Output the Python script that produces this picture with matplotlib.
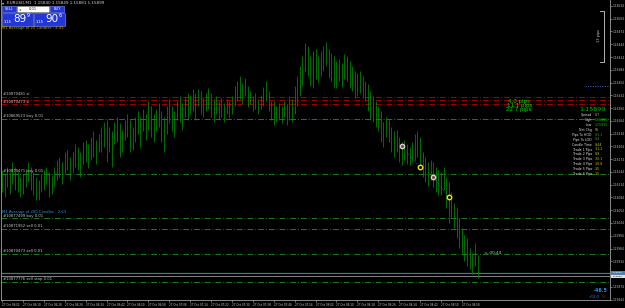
import matplotlib
matplotlib.use("Agg")
import matplotlib.pyplot as plt
from matplotlib.patches import Rectangle

# --- EURUSD M1 bars (high / low) ---
bar_high = [
    1.16148, 1.16139, 1.16155, 1.16143, 1.16167, 1.16155, 1.16143, 1.16131,
    1.16139, 1.16148, 1.16167, 1.16155, 1.16143, 1.16131, 1.16124, 1.16139,
    1.16148, 1.16155, 1.16143, 1.16134, 1.16155, 1.16172, 1.16179, 1.16167,
    1.16191, 1.16196, 1.16179, 1.16191, 1.16210, 1.16203, 1.16191, 1.16215,
    1.16220, 1.16210, 1.16227, 1.16239, 1.16220, 1.16234, 1.16250, 1.16262,
    1.16267, 1.16250, 1.16239, 1.16262, 1.16274, 1.16258, 1.16243, 1.16267,
    1.16281, 1.16267, 1.16250, 1.16274, 1.16286, 1.16274, 1.16291, 1.16281,
    1.16310, 1.16298, 1.16281, 1.16291, 1.16305, 1.16286, 1.16274, 1.16298,
    1.16315, 1.16300, 1.16286, 1.16310, 1.16322, 1.16305, 1.16320, 1.16329,
    1.16324, 1.16339, 1.16329, 1.16339, 1.16334, 1.16320, 1.16329, 1.16341,
    1.16329, 1.16315, 1.16322, 1.16310, 1.16317, 1.16305, 1.16315, 1.16310,
    1.16322, 1.16346, 1.16358, 1.16369, 1.16353, 1.16365, 1.16346, 1.16334,
    1.16322, 1.16329, 1.16315, 1.16324, 1.16343, 1.16358, 1.16334, 1.16310,
    1.16310, 1.16298, 1.16305, 1.16300, 1.16310, 1.16303, 1.16322, 1.16315,
    1.16346, 1.16369, 1.16393, 1.16417, 1.16446, 1.16441, 1.16417, 1.16429,
    1.16434, 1.16417, 1.16429, 1.16441, 1.16450, 1.16434, 1.16424, 1.16417,
    1.16405, 1.16410, 1.16400, 1.16422, 1.16417, 1.16405, 1.16393, 1.16381,
    1.16377, 1.16381, 1.16369, 1.16358, 1.16350, 1.16334, 1.16322, 1.16310,
    1.16298, 1.16286, 1.16262, 1.16274, 1.16267, 1.16250, 1.16239, 1.16243,
    1.16227, 1.16215, 1.16220, 1.16210, 1.16203, 1.16215, 1.16234, 1.16239,
    1.16227, 1.16191, 1.16179, 1.16167, 1.16172, 1.16167, 1.16155, 1.16148,
    1.16143, 1.16155, 1.16131, 1.16120, 1.16096, 1.16072, 1.16060, 1.16036,
    1.16012, 1.15996, 1.15989, 1.15965, 1.15953, 1.15977, 1.15948,
]
bar_low = [
    1.16096, 1.16084, 1.16108, 1.16091, 1.16115, 1.16101, 1.16096, 1.16084,
    1.16091, 1.16108, 1.16120, 1.16101, 1.16089, 1.16079, 1.16077, 1.16096,
    1.16101, 1.16115, 1.16084, 1.16091, 1.16108, 1.16124, 1.16131, 1.16115,
    1.16139, 1.16148, 1.16124, 1.16143, 1.16155, 1.16148, 1.16131, 1.16162,
    1.16167, 1.16153, 1.16172, 1.16179, 1.16162, 1.16191, 1.16191, 1.16203,
    1.16167, 1.16191, 1.16155, 1.16210, 1.16215, 1.16179, 1.16191, 1.16220,
    1.16227, 1.16191, 1.16196, 1.16215, 1.16234, 1.16203, 1.16239, 1.16220,
    1.16243, 1.16227, 1.16215, 1.16239, 1.16250, 1.16215, 1.16191, 1.16234,
    1.16258, 1.16239, 1.16227, 1.16267, 1.16262, 1.16243, 1.16274, 1.16267,
    1.16281, 1.16286, 1.16267, 1.16298, 1.16279, 1.16274, 1.16286, 1.16291,
    1.16274, 1.16262, 1.16281, 1.16267, 1.16274, 1.16262, 1.16279, 1.16270,
    1.16281, 1.16298, 1.16310, 1.16315, 1.16303, 1.16322, 1.16296, 1.16303,
    1.16286, 1.16291, 1.16281, 1.16291, 1.16300, 1.16310, 1.16286, 1.16267,
    1.16255, 1.16262, 1.16267, 1.16258, 1.16274, 1.16255, 1.16267, 1.16262,
    1.16281, 1.16298, 1.16322, 1.16346, 1.16381, 1.16369, 1.16346, 1.16341,
    1.16362, 1.16353, 1.16369, 1.16381, 1.16393, 1.16365, 1.16358, 1.16341,
    1.16341, 1.16358, 1.16343, 1.16362, 1.16358, 1.16341, 1.16334, 1.16317,
    1.16322, 1.16329, 1.16317, 1.16310, 1.16286, 1.16267, 1.16262, 1.16250,
    1.16239, 1.16215, 1.16203, 1.16227, 1.16215, 1.16191, 1.16179, 1.16191,
    1.16167, 1.16160, 1.16172, 1.16162, 1.16160, 1.16167, 1.16172, 1.16179,
    1.16160, 1.16131, 1.16120, 1.16112, 1.16124, 1.16108, 1.16096, 1.16089,
    1.16089, 1.16101, 1.16060, 1.16024, 1.16036, 1.16012, 1.15989, 1.15965,
    1.15953, 1.15934, 1.15924, 1.15917, 1.15905, 1.15924, 1.15895,
]
time_labels = [
    "27 Oct 06:02", "27 Oct 06:10", "27 Oct 06:18", "27 Oct 06:26", "27 Oct 06:34",
    "27 Oct 06:42", "27 Oct 06:50", "27 Oct 06:58", "27 Oct 07:06", "27 Oct 07:14",
    "27 Oct 07:22", "27 Oct 07:30", "27 Oct 07:38", "27 Oct 07:46", "27 Oct 07:54",
    "27 Oct 08:02", "27 Oct 08:10", "27 Oct 08:18", "27 Oct 08:26", "27 Oct 08:34",
    "27 Oct 08:42", "27 Oct 08:50", "27 Oct 08:58",
]
bid = 1.15899
ask = 1.15906
sl_levels = [1.16320, 1.16313, 1.16303]
sl_names = ["#10870481 sl", "", "#10870473 sl"]
order_levels = [1.16269, 1.16139, 1.16035, 1.16010, 1.15951, 1.15885]
order_names = ["#10869523 buy 0.01", "#10870471 buy 0.01", "#10877499 buy 0.01",
               "#10871962 sell 0.01", "#10870473 sell 0.01", "#10877776 sell stop 0.01"]
open_bars = [153, 165]
open_prices = [1.16205, 1.16132]
close_bars = [160, 171]
close_prices = [1.16155, 1.16085]
info_names = ["Spread", "High", "Low", "Net Chg", "Pips To HOD", "Pips To LOD", "Candle Time",
              "Trade 1 Pips", "Trade 2 Pips", "Trade 3 Pips", "Trade 4 Pips", "Trade 5 Pips",
              "Trade 6 Pips"]
info_values = ["0.7", "1.16450", "1.15895", "56", "-55.1", "0.4", "0:44",
               "-31.1", "8.9", "-30.1", "-10.8", "3.5", "-15"]
info_colors = ["#c8c800", "#00c000", "#00c000", "#c8c800", "#00c000", "#00c000", "#c8c800",
               "#c8c800", "#c8c800", "#c8c800", "#c8c800", "#c8c800", "#c8c800"]

W, H = 625, 308
fig = plt.figure(figsize=(W / 100, H / 100), dpi=100, facecolor="black")
ax = fig.add_axes([1 / W, 8 / H, 609 / W, 300 / H], facecolor="black")

x = list(range(len(bar_high)))
ax.vlines(x, bar_low, bar_high, color="#008c00", lw=0.55, zorder=3)

# stop-loss / order lines
dashdot = (0, (6, 2, 1, 2))
for lvl, name in zip(sl_levels, sl_names):
    ax.axhline(lvl, color="#a00000", lw=0.7, ls=dashdot, zorder=2)
    if name:
        ax.annotate(name, (0.004, lvl), xycoords=("axes fraction", "data"), xytext=(0, 0.5),
                    textcoords="offset points", fontsize=2.7, color="#c8c8c8", va="bottom")
for lvl, name in zip(order_levels, order_names):
    ax.axhline(lvl, color="#1f7a1f", lw=0.7, ls=dashdot, zorder=2)
    ax.annotate(name, (0.004, lvl), xycoords=("axes fraction", "data"), xytext=(0, 0.5),
                textcoords="offset points", fontsize=2.7, color="#c8c8c8", va="bottom")

ax.axhline(ask, color="#4a7099", lw=0.9, zorder=2)
ax.axhline(bid, color="#9a9a9a", lw=0.6, zorder=2)
ax.hlines(1.16347, 223, 232.7, color="#3a6fd0", lw=0.7, ls=(0, (1, 1.5)))

# closed trades
for ob, op, cb, cp in zip(open_bars, open_prices, close_bars, close_prices):
    ax.plot([ob, cb], [op, cp], color="#2a62d8", lw=0.6, ls=(0, (1, 1.5)), zorder=4)
ax.plot(open_bars, open_prices, "o", ms=3.2, mfc="#904848", mec="#d8d8d8", mew=0.9, zorder=5)
ax.plot(close_bars, close_prices, "o", ms=3.2, mfc="black", mec="#e8e800", mew=1.0, zorder=5)

ax.set_xlim(-0.383, 232.7)
ax.set_ylim(1.15843, 1.16548)
ax.set_xticks(range(0, 8 * len(time_labels), 8))
ax.set_xticklabels(time_labels, ha="left")
# the terminal hides the scale label that sits under the bid/ask tags
price_ticks = [1.16534 - 0.0003 * k for k in range(24)]
price_ticks = [p for p in price_ticks if abs(p - bid) > 0.00012]
ax.set_yticks(price_ticks)
ax.set_yticklabels([f"{p:.5f}" for p in price_ticks])
ax.yaxis.tick_right()
ax.tick_params(axis="x", colors="#a0a0a0", labelcolor="#c8c8c8", labelsize=2.0, length=1.5,
               width=0.5, pad=0.6)
ax.tick_params(axis="y", colors="#a0a0a0", labelcolor="#c8c8c8", labelsize=2.1, length=1.5,
               width=0.5, pad=0.6)
for side in ["left", "bottom", "right"]:
    ax.spines[side].set_color("#a0a0a0")
    ax.spines[side].set_linewidth(0.6)
ax.spines["top"].set_visible(False)

# --- overlay in screen pixels for the terminal widgets ---
ov = fig.add_axes([0, 0, 1, 1])
ov.set_xlim(0, W)
ov.set_ylim(H, 0)
ov.axis("off")
ov.patch.set_alpha(0)
ov.set_zorder(5)

ov.text(2, 3, "\u25be", fontsize=3, color="#d0d0d0", va="center")
ov.text(7, 3, "EURUSD,M1  1.15840 1.15849 1.15881 1.15899", fontsize=3, color="#d0d0d0",
        va="center")

blue, edge = "#2337d7", "#7f90ff"
ov.add_patch(Rectangle((2, 5.5), 14, 6.5, fc=blue, ec=edge, lw=0.4))
ov.text(9, 8.8, "SELL", fontsize=2.6, color="white", ha="center", va="center")
ov.add_patch(Rectangle((17, 5.5), 32, 6.5, fc="white", ec="#a0a0a0", lw=0.4))
ov.text(20, 8.8, "\u25c2", fontsize=2.6, color="#404040", ha="center", va="center")
ov.text(33, 8.8, "0.01", fontsize=2.6, color="#202020", ha="center", va="center")
ov.add_patch(Rectangle((50, 5.5), 14, 6.5, fc=blue, ec=edge, lw=0.4))
ov.text(57, 8.8, "BUY", fontsize=2.6, color="white", ha="center", va="center")
for x0, big, sup in [(2, "89", "9"), (34, "90", "6")]:
    ov.add_patch(Rectangle((x0, 12.5), 31, 13, fc=blue, ec=edge, lw=0.4))
    ov.text(x0 + 2, 22, "1.15", fontsize=2.6, color="white", va="center")
    ov.text(x0 + 11, 19.5, big, fontsize=7.5, color="white", va="center")
    ov.text(x0 + 25, 15.5, sup, fontsize=3.5, color="white", va="center")

ov.text(2, 28.5, "M1 Average of 20 Candles : 4.45", fontsize=2.7, color="#c8a000", va="center")
ov.text(2, 211.5, "M1 Average of 200 Candles : 2.63", fontsize=2.7, color="#2a8fe0",
        va="center")

# pip bracket
ov.plot([600, 603.5, 603.5, 600], [10.7, 10.7, 61.7, 61.7], color="#d0d0d0", lw=0.6)
ov.text(599, 36, "13 pips", fontsize=2.5, color="#d0d0d0", rotation=90, ha="center",
        va="center")

# pips distances and info panel
ov.text(508, 101, "4.0 pips", fontsize=4, color="#00e000", va="center")
ov.text(507, 105, "11.1 pips", fontsize=4, color="#00e000", va="center")
ov.text(506, 109.5, "22.7 pips", fontsize=4, color="#00e000", va="center")
ov.text(606, 109.5, "1.15899", fontsize=4.6, color="#00c000", ha="right", va="center")
row_y = [115, 120, 125, 130, 135, 139.5, 144.5, 149.5, 154.3, 159.2, 164.1, 169, 174]
for yy, name, val, col in zip(row_y, info_names, info_values, info_colors):
    ov.text(592, yy, name, fontsize=2.3, color="#d8d8d8", ha="right", va="center")
    ov.text(595, yy, val, fontsize=2.3, color=col, ha="left", va="center")

ov.text(483, 253.5, "<--00:44", fontsize=3, color="#c8c8c8", va="center")

# bid / ask tags on the price scale
ov.add_patch(Rectangle((610.5, 271.2), 14.5, 3.4, fc="#4f7fb0", ec="none"))
ov.text(617.5, 272.9, "1.15906", fontsize=1.7, color="white", ha="center", va="center")
ov.add_patch(Rectangle((610.5, 274.8), 14.5, 3.4, fc="#e0e0e0", ec="none"))
ov.text(617.5, 276.6, "1.15899", fontsize=1.7, color="#300000", ha="center", va="center")

ov.text(608, 291, "-46.5", fontsize=3.4, color="#2a8fe0", ha="right", va="center",
        fontweight="bold")
ov.text(589, 297.3, "+12.0", fontsize=2.5, color="#2a8fe0", va="center")
ov.text(602, 297.3, "56", fontsize=2.5, color="#b00000", va="center")

fig.savefig("out.png", dpi=100, facecolor="black")
